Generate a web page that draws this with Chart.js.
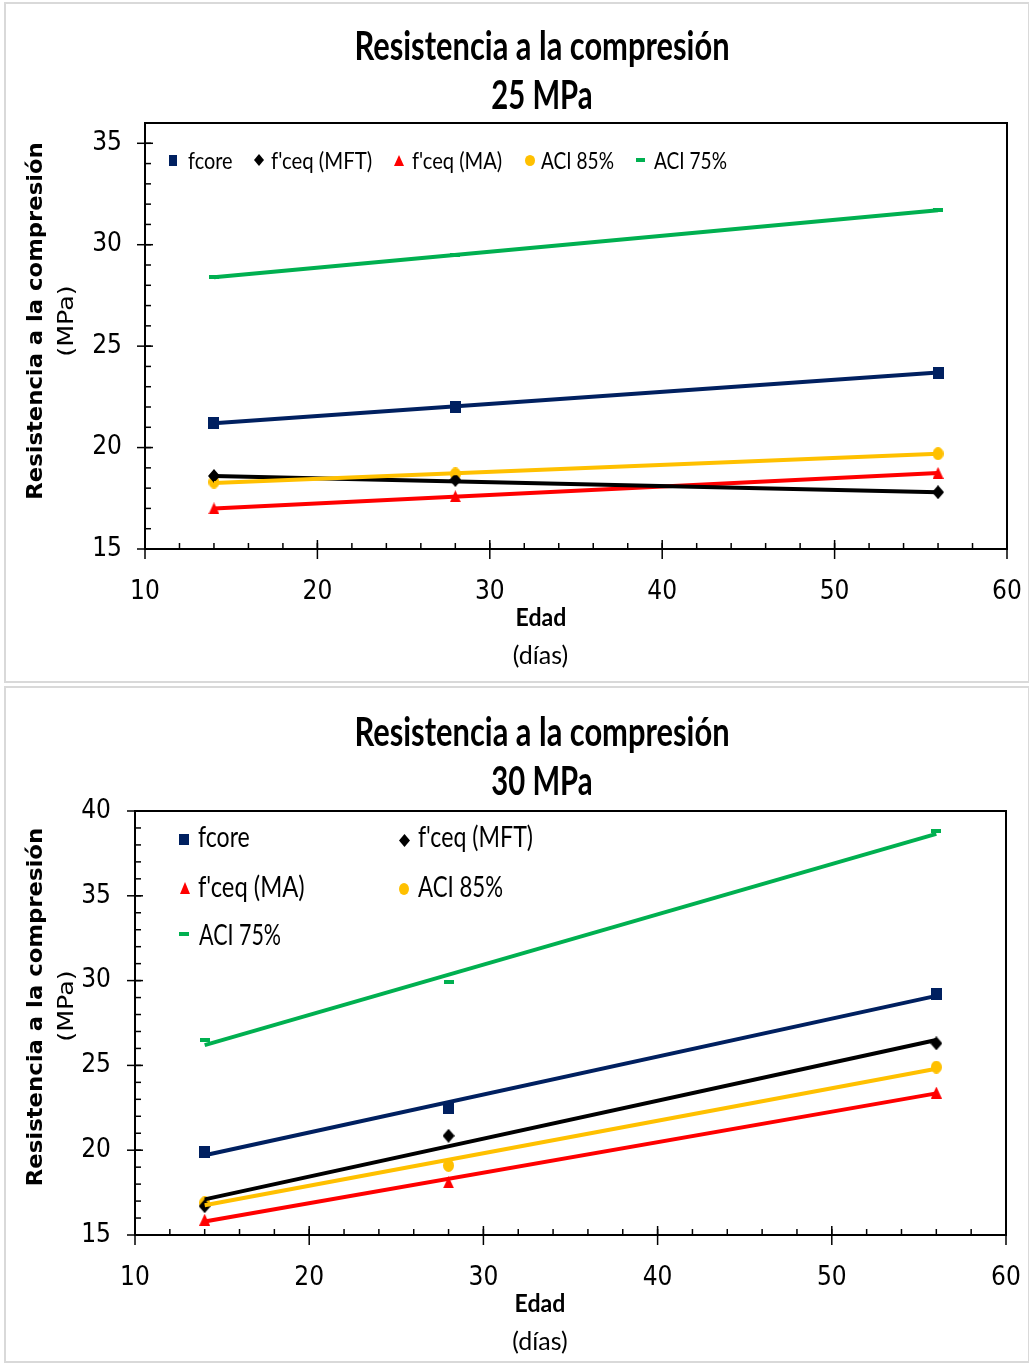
<!DOCTYPE html>
<html><head><meta charset="utf-8">
<script src="https://cdn.jsdelivr.net/npm/chart.js@4.4.1/dist/chart.umd.min.js"></script>
<style>
html,body{margin:0;padding:0;background:#fff;}
body{width:1029px;height:1363px;position:relative;overflow:hidden;}
.panel{position:absolute;box-sizing:border-box;border:2px solid #d9d9d9;background:#fff;}
.cwrap{position:absolute;left:0;}
.txt{position:absolute;white-space:nowrap;line-height:1.2;color:#000;}
.mk{position:absolute;}
</style></head><body>
<div class="panel" style="left:4px;top:2px;width:1026px;height:681px"></div>
<div class="panel" style="left:4px;top:686px;width:1026px;height:677px"></div>
<div class="cwrap" style="top:0;width:1029px;height:684px"><canvas id="c1" width="1029" height="684"></canvas></div>
<div class="cwrap" style="top:684px;width:1029px;height:679px"><canvas id="c2" width="1029" height="679"></canvas></div>
<div id="overlay" style="position:absolute;left:0;top:0;width:1029px;height:1363px;pointer-events:none"></div>
<script>
// ---------- DATA ----------
const ages = [14, 28, 56];
const trendAges = [14, 56];
const xTickLabels = [10, 20, 30, 40, 50, 60];
const yTickLabels25 = [15, 20, 25, 30, 35];
const yTickLabels30 = [15, 20, 25, 30, 35, 40];
const seriesNames = ['fcore', "f'ceq (MFT)", "f'ceq (MA)", 'ACI 85%', 'ACI 75%'];

// 25 MPa
const fcore25 = [21.2, 22.0, 23.7];
const mft25 = [18.6, 18.4, 17.8];
const ma25 = [17.0, 17.6, 18.75];
const aci85_25 = [18.3, 18.7, 19.7];
const aci75_25 = [28.4, 29.5, 31.7];
const fcore25Trend = [21.2, 23.7];
const mft25Trend = [18.6, 17.8];
const ma25Trend = [17.0, 18.75];
const aci85_25Trend = [18.25, 19.7];
const aci75_25Trend = [28.4, 31.7];

// 30 MPa
const fcore30 = [19.9, 22.5, 29.2];
const mft30 = [16.7, 20.85, 26.3];
const ma30 = [15.9, 18.1, 23.4];
const aci85_30 = [16.9, 19.1, 24.9];
const aci75_30 = [26.5, 29.9, 38.8];
const fcore30Trend = [19.7, 29.1];
const mft30Trend = [17.1, 26.5];
const ma30Trend = [15.8, 23.35];
const aci85_30Trend = [16.75, 24.8];
const aci75_30Trend = [26.2, 38.65];

// ---------- STYLE ----------
const colors = ['#002060', '#000000', '#ff0000', '#ffc000', '#00b050'];
const shapes = ['square', 'diamond', 'triangle', 'circle', 'dash'];
const chartMarkerSize = [[11,12],[12,14],[11,12],[11,13],[10,4]];

function marker(shape, w, h, color) {
  const c = document.createElement('canvas'); c.width = w; c.height = h;
  const g = c.getContext('2d'); g.fillStyle = color; g.beginPath();
  if (shape === 'diamond') { g.moveTo(w/2,0); g.lineTo(w,h/2); g.lineTo(w/2,h); g.lineTo(0,h/2); g.closePath(); }
  else if (shape === 'triangle') { g.moveTo(w/2,0); g.lineTo(w,h); g.lineTo(0,h); g.closePath(); }
  else if (shape === 'circle') { g.ellipse(w/2,h/2,w/2,h/2,0,0,Math.PI*2); }
  else { g.rect(0,0,w,h); }
  g.fill();
  return c;
}

const framePlugin = {
  id: 'frame',
  afterDraw(chart, args, opts) {
    const {ctx, chartArea: a, scales: {x, y}} = chart;
    const line = (x1,y1,x2,y2) => { ctx.beginPath(); ctx.moveTo(x1,y1); ctx.lineTo(x2,y2); ctx.stroke(); };
    ctx.save();
    ctx.strokeStyle = '#000';
    ctx.lineWidth = 2;
    ctx.strokeRect(a.left, a.top, a.right - a.left, a.bottom - a.top);
    ctx.lineWidth = 1.5;
    for (let v = x.min; v <= x.max + 1e-9; v += opts.xMinor) {
      const px = x.getPixelForValue(v); line(px, a.bottom, px, a.bottom - 6);
    }
    x.ticks.forEach(t => { const px = x.getPixelForValue(t.value); line(px, a.bottom - 9, px, a.bottom + 10); });
    for (let v = y.min; v <= y.max + 1e-9; v += opts.yMinor) {
      const py = y.getPixelForValue(v); line(a.left, py, a.left + 6, py);
    }
    y.ticks.forEach(t => { const py = y.getPixelForValue(t.value); line(a.left - 8, py, a.left + 8, py); });
    ctx.restore();
  }
};

const tickFont = {family: '"Liberation Sans Narrow", "DejaVu Sans Condensed", sans-serif', size: 26};

function buildDatasets(points, trends) {
  const ds = [];
  const trendOrder = [4, 0, 3, 1, 2];
  trendOrder.forEach(i => {
    ds.push({
      data: trendAges.map((a, k) => ({x: a, y: trends[i][k]})),
      showLine: true, borderColor: colors[i], borderWidth: 4, pointRadius: 0, fill: false
    });
  });
  points.forEach((vals, i) => {
    ds.push({
      data: ages.map((a, k) => ({x: a, y: vals[k]})),
      showLine: false,
      pointStyle: marker(shapes[i], chartMarkerSize[i][0], chartMarkerSize[i][1], colors[i]),
      pointRadius: 5, pointHoverRadius: 5
    });
  });
  return ds;
}

function makeChart(id, points, trends, cfg) {
  const canvas = document.getElementById(id);
  const ch = new Chart(canvas, {
    type: 'scatter',
    data: { datasets: buildDatasets(points, trends) },
    options: {
      responsive: false, animation: false, devicePixelRatio: 1,
      layout: { padding: { top: cfg.top, left: 0, right: canvas.width - cfg.rightEdge, bottom: cfg.bottom } },
      plugins: { legend: {display: false}, tooltip: {enabled: false}, title: {display: false},
                 frame: {xMinor: 2, yMinor: 1} },
      scales: {
        x: { type: 'linear', min: 10, max: 60,
             afterBuildTicks: s => { s.ticks = xTickLabels.map(v => ({value: v})); },
             afterFit: s => { s.height = 60; s.paddingLeft = 0; s.paddingRight = 0; },
             grid: {display: false, drawTicks: false}, border: {display: false},
             ticks: {padding: 28, font: tickFont, color: '#000', maxRotation: 0, autoSkip: false} },
        y: { type: 'linear', min: 15, max: cfg.ymax,
             afterBuildTicks: s => { s.ticks = cfg.yTicks.map(v => ({value: v})); },
             afterFit: s => { s.width = cfg.yWidth; s.paddingTop = 0; s.paddingBottom = 0; },
             grid: {display: false, drawTicks: false}, border: {display: false},
             ticks: {padding: cfg.yPad, font: tickFont, color: '#000', autoSkip: false} }
      }
    },
    plugins: [framePlugin]
  });
  const diff = cfg.rightEdge - ch.chartArea.right;
  if (Math.abs(diff) > 0.5) {
    ch.options.layout.padding = { top: cfg.top, left: 0, right: canvas.width - cfg.rightEdge - diff, bottom: cfg.bottom };
    ch.update('none');
  }
  return ch;
}

makeChart('c1', [fcore25, mft25, ma25, aci85_25, aci75_25],
  [fcore25Trend, mft25Trend, ma25Trend, aci85_25Trend, aci75_25Trend],
  {top: 123, bottom: 75, yWidth: 145, yPad: 23, ymax: 36, yTicks: yTickLabels25, rightEdge: 1007});
makeChart('c2', [fcore30, mft30, ma30, aci85_30, aci75_30],
  [fcore30Trend, mft30Trend, ma30Trend, aci85_30Trend, aci75_30Trend],
  {top: 127, bottom: 68, yWidth: 135, yPad: 24, ymax: 40, yTicks: yTickLabels30, rightEdge: 1006});

// ---------- TEXT & LEGENDS (HTML overlay) ----------
const overlay = document.getElementById('overlay');
function T(text, x, y, w, font, o = {}) {
  const s = document.createElement('div');
  s.className = 'txt'; s.textContent = text; s.style.font = font; s.style.lineHeight = '1.2';
  s.style.left = x + 'px'; s.style.top = y + 'px';
  overlay.appendChild(s);
  const k = w / s.offsetWidth;
  const sy = o.sy || 1;
  if (o.rot) {
    s.style.transformOrigin = '50% 50%';
    s.style.transform = `translate(-50%,-50%) rotate(-90deg) scale(${k},${sy})`;
  } else if (o.left) {
    s.style.transformOrigin = '0 50%';
    s.style.transform = `translateY(-50%) scaleX(${k})`;
  } else {
    s.style.transformOrigin = '50% 50%';
    s.style.transform = `translate(-50%,-50%) scaleX(${k})`;
  }
}
function M(i, cx, cy, w, h) {
  const c = marker(shapes[i], w, h, colors[i]);
  c.className = 'mk'; c.style.left = (cx - w/2) + 'px'; c.style.top = (cy - h/2) + 'px';
  overlay.appendChild(c);
}
const titleFont = '700 40px Lato, "Noto Sans", sans-serif';
const yTitleFont = '700 22px "DejaVu Sans", sans-serif';
const yUnitFont = '400 24px "DejaVu Sans", sans-serif';

// Panel 1
T('Resistencia a la compresión', 542, 45, 375, titleFont);
T('25 MPa', 542, 94, 101, titleFont);
T('Edad', 540.5, 617, 51, '700 24px Lato, sans-serif');
T('(días)', 540.5, 654, 55, '400 25px Lato, sans-serif');
T('Resistencia a la compresión', 36, 321, 357, yTitleFont, {rot: true, sy: 0.95});
T('(MPa)', 66, 321, 72, yUnitFont, {rot: true, sy: 0.9});
const lg1 = [[173, 188, 45], [259, 271, 101], [399, 412, 90], [530, 541, 73], [640, 654, 73]];
const lg1Size = [[8,11],[10,12],[10,11],[10,11],[9,4]];
lg1.forEach((e, i) => { M(i, e[0], 160, lg1Size[i][0], lg1Size[i][1]); T(seriesNames[i], e[1], 161, e[2], '400 23px Lato, sans-serif', {left: true}); });

// Panel 2
T('Resistencia a la compresión', 542, 731, 375, titleFont);
T('30 MPa', 542, 780, 101, titleFont);
T('Edad', 540, 1303, 51, '700 24px Lato, sans-serif');
T('(días)', 540, 1340, 55, '400 25px Lato, sans-serif');
T('Resistencia a la compresión', 36, 1007, 358, yTitleFont, {rot: true, sy: 0.95});
T('(MPa)', 66, 1006, 72, yUnitFont, {rot: true, sy: 0.9});
const lg2 = [[184, 839, 198, 52], [404, 840, 418, 115], [185, 888, 198, 107], [404, 889, 418, 85], [184, 934, 199, 82]];
const lg2Size = [[10,11],[11,13],[10,12],[10,12],[10,4]];
const lg2Text = [837, 837, 887, 887, 935];
lg2.forEach((e, i) => { M(i, e[0], e[1], lg2Size[i][0], lg2Size[i][1]); T(seriesNames[i], e[2], lg2Text[i], e[3], '400 28px Lato, sans-serif', {left: true}); });
</script>
</body></html>
